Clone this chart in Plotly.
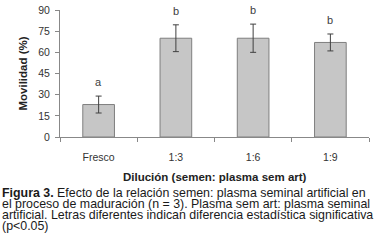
import plotly.graph_objects as go

categories = ["Fresco", "1:3", "1:6", "1:9"]
movilidad = [23, 70, 70, 67]
error = [6, 9.5, 10, 6]
letters = ["a", "b", "b", "b"]
y_ticks = [0, 15, 30, 45, 60, 75, 90]
caption_lines = [
    "<b>Figura 3.</b> Efecto de la relación semen: plasma seminal artificial en",
    "el proceso de maduración (n = 3). Plasma sem art: plasma seminal",
    "artificial. Letras diferentes indican diferencia estadística significativa",
    "(p<0.05)",
]

W, H = 385, 244
L, R, T, B = 60, 16, 10, 107
ph = H - T - B
pw = W - L - R

fig = go.Figure()
fig.add_trace(go.Bar(
    x=categories, y=movilidad, width=0.41,
    marker=dict(color="#c6c6c6", line=dict(color="#7f7f7f", width=1)),
    error_y=dict(type="data", array=error, color="#404040", thickness=1, width=3),
    hoverinfo="skip",
))
for c, v, e, l in zip(categories, movilidad, error, letters):
    fig.add_annotation(x=c, y=v + e + 4, text=l, showarrow=False, yanchor="bottom",
                       font=dict(family="Liberation Sans, Arial", size=11, color="#404040"))

for i, line in enumerate(caption_lines):
    ypx = 192.5 + i * 11.2
    fig.add_annotation(xref="paper", yref="paper", x=(1 - L) / pw, y=(H - B - ypx) / ph,
                       text=line, showarrow=False, xanchor="left", yanchor="middle", align="left",
                       borderpad=0,
                       font=dict(family="Liberation Sans, Arial", size=12.4, color="#1a1a1a"))

fig.add_annotation(xref="paper", yref="paper", x=0.5, y=(H - B - 177) / ph,
                   text="<b>Dilución (semen: plasma sem art)</b>", showarrow=False,
                   xanchor="center", yanchor="middle", borderpad=0,
                   font=dict(family="Liberation Sans, Arial", size=11.5, color="#222222"))

fig.update_layout(
    width=W, height=H,
    margin=dict(l=L, r=R, t=T, b=B),
    paper_bgcolor="white", plot_bgcolor="white",
    showlegend=False,
    xaxis=dict(
        range=[-0.5, 3.5], tickson="boundaries", ticks="outside", ticklen=4,
        tickcolor="#888888", showline=True, linecolor="#888888", linewidth=1,
        tickfont=dict(family="Liberation Sans, Arial", size=10.5, color="#333333"),
        ticklabelstandoff=10,
        showgrid=False, automargin=False,
    ),
    yaxis=dict(
        range=[0, 90], tickvals=y_ticks, ticks="outside", ticklen=4,
        tickcolor="#888888", showline=True, linecolor="#888888", linewidth=1,
        tickfont=dict(family="Liberation Sans, Arial", size=10.5, color="#333333"),
        ticklabelstandoff=3,
        title=dict(text="<b>Movilidad (%)</b>", standoff=8,
                   font=dict(family="Liberation Sans, Arial", size=11.5, color="#222222")),
        showgrid=False, zeroline=False, automargin=False,
    ),
)

fig.write_html("out.html", config={"displayModeBar": False, "staticPlot": True})
with open("out.html", encoding="utf-8") as f:
    html = f.read()
html = html.replace("<body>", '<body style="margin:0;padding:0">', 1)
with open("out.html", "w", encoding="utf-8") as f:
    f.write(html)
